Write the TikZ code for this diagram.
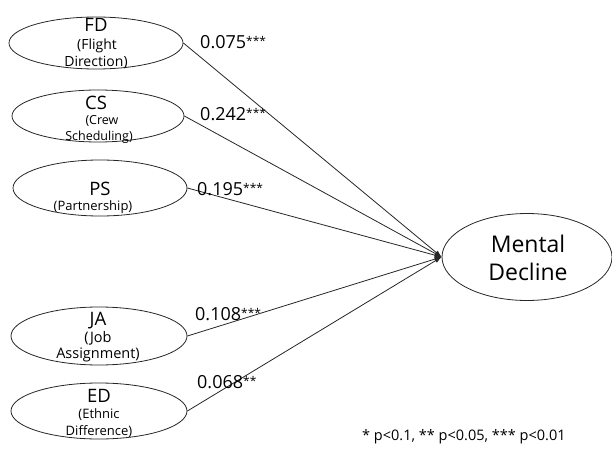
\documentclass[tikz,border=0pt]{standalone}
\usepackage{fontspec}
\setmainfont{Open Sans}
\usetikzlibrary{shapes.geometric,arrows.meta}
\newcommand{\fsz}[1]{\fontsize{#1}{#1}\selectfont}
\newcommand{\stars}[1]{\raisebox{3pt}{\fsz{12}#1}}
\begin{document}
\begin{tikzpicture}[x=1pt,y=-1pt,
  latent/.style={draw=black!85, line width=0.8pt, ellipse, inner sep=0pt},
  ttl/.style={anchor=base, inner sep=0pt, font=\fsz{18.5}},
  sub/.style={anchor=base, inner sep=0pt},
  coef/.style={anchor=base west, inner sep=0pt, font=\fsz{18}},
  path/.style={draw=black!85, line width=0.8pt, -{Latex[length=7pt,width=5pt]}}]
\useasboundingbox (0,0) rectangle (612,449);

% exogenous factors
\node[latent, minimum width=174pt, minimum height=52pt] (FD) at (96,43) {};
\node[latent, minimum width=172pt, minimum height=52pt] (CS) at (98,116) {};
\node[latent, minimum width=174pt, minimum height=56pt] (PS) at (100,188) {};
\node[latent, minimum width=176pt, minimum height=58pt] (JA) at (99,336) {};
\node[latent, minimum width=176pt, minimum height=56pt] (ED) at (99,411) {};
% outcome
\node[latent, minimum width=170pt, minimum height=87pt] (MD) at (527,257) {};

% factor captions
\node[ttl] (FDa) at (96,32) {FD};
\node[sub, font=\fsz{14}] (FDb) at (97,50) {(Flight};
\node[sub, font=\fsz{14}] (FDc) at (96,67) {Direction)};

\node[ttl] (CSa) at (96,110) {CS};
\node[sub, font=\fsz{12.5}] (CSb) at (102,124.5) {(Crew};
\node[sub, font=\fsz{12.5}] (CSc) at (99,141) {Scheduling)};

\node[ttl] (PSa) at (100,195) {PS};
\node[sub, font=\fsz{13}] (PSb) at (93,210) {(Partnership)};

\node[ttl] (JAa) at (98,325) {JA};
\node[sub, font=\fsz{14.5}] (JAb) at (98,342) {(Job};
\node[sub, font=\fsz{14.5}] (JAc) at (98,358) {Assignment)};

\node[ttl] (EDa) at (99,402) {ED};
\node[sub, font=\fsz{13}] (EDb) at (99,418) {(Ethnic};
\node[sub, font=\fsz{13}] (EDc) at (99,435) {Difference)};

\node[sub, font=\fsz{23}] (MDa) at (528,252) {Mental};
\node[sub, font=\fsz{23}] (MDb) at (528,280) {Decline};

% structural paths
\draw[path] (FD.east) -- (MD.west);
\draw[path] (CS.east) -- (MD.west);
\draw[path] (PS.east) -- (MD.west);
\draw[path] (JA.east) -- (MD.west);
\draw[path] (ED.east) -- (MD.west);

% path coefficients
\node[coef] (cFD) at (200,49) {0.075\stars{***}};
\node[coef] (cCS) at (200,121) {0.242\stars{***}};
\node[coef] (cPS) at (197,195) {0.195\stars{***}};
\node[coef] (cJA) at (195,320) {0.108\stars{***}};
\node[coef] (cED) at (197,388) {0.068\stars{**}};

% significance note
\node[coef, font=\fsz{14.5}] (note) at (362,440) {* p<0.1, ** p<0.05, *** p<0.01};
\end{tikzpicture}
\end{document}
